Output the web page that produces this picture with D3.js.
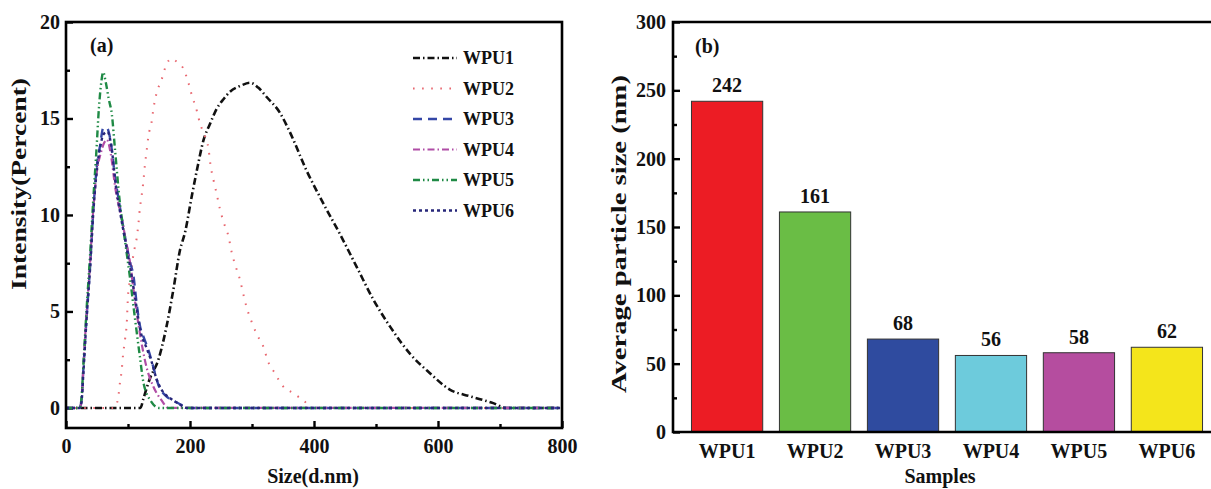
<!DOCTYPE html>
<html>
<head>
<meta charset="utf-8">
<script src="https://cdn.jsdelivr.net/npm/d3@7"></script>
<style>
  body { margin: 0; background: #fff; }
  svg text { font-family: "Liberation Serif", "Times New Roman", serif; font-weight: bold; fill: #111; }
</style>
</head>
<body>
<svg width="1211" height="489"></svg>
<script>
// (a) size distribution, [size nm, intensity %]
var wpu1 = [[0,0],[120,0],[125,0.5],[135,1.5],[149,2.5],[162,4.2],[173,6.1],[184,8.2],[192,9.1],[203,11.0],[211,12.3],[222,13.9],[232,14.7],[243,15.5],[254,16.0],[265,16.4],[282,16.7],[297,16.85],[310,16.6],[324,16.1],[345,15.3],[361,14.3],[388,12.3],[415,10.6],[442,9.0],[469,7.3],[496,5.6],[523,4.2],[555,2.8],[587,1.8],[619,0.95],[652,0.6],[689,0.25],[710,0],[800,0]];
var wpu2 = [[0,0],[78,0],[84,0.5],[87,1.3],[90,2.0],[92,2.75],[95,3.5],[98,4.4],[100,5.8],[103,6.6],[106,7.3],[109,8.0],[114,8.8],[117,9.6],[119,10.3],[122,11.0],[125,11.8],[127,12.5],[130,13.3],[133,14.1],[138,14.8],[141,15.5],[146,16.3],[154,17.0],[162,17.8],[170,18.1],[180,17.9],[189,17.6],[197,16.9],[203,16.2],[211,15.4],[216,14.75],[224,14.1],[230,13.4],[233,12.6],[238,11.8],[243,11.1],[248,10.35],[254,9.65],[262,8.9],[267,8.1],[273,7.4],[281,6.6],[286,5.9],[291,5.25],[299,4.5],[308,3.8],[318,3.2],[326,2.4],[337,1.8],[348,1.2],[367,0.75],[386,0.3],[395,0],[800,0]];
var wpu3 = [[0,0],[22,0],[25,0.4],[28,2.0],[33,4.6],[39,7.4],[44,10.2],[50,12.6],[55,13.6],[60,14.5],[66,14.5],[71,14.0],[79,12.0],[87,10.4],[95,8.9],[103,7.6],[109,6.8],[114,5.4],[119,4.3],[126,3.6],[133,3.0],[141,2.1],[149,1.2],[162,0.6],[175,0.35],[190,0.1],[200,0],[800,0]];
var wpu4 = [[0,0],[22,0],[25,0.4],[28,2.1],[33,4.8],[39,7.6],[44,10.3],[50,12.3],[56,13.2],[61,13.7],[66,13.9],[72,13.2],[80,11.3],[90,9.8],[97,8.6],[103,7.6],[111,5.6],[119,3.9],[130,2.1],[141,1.1],[154,0.4],[165,0],[800,0]];
var wpu5 = [[0,0],[22,0],[25,0.5],[28,2.2],[33,5.0],[39,8.0],[44,10.8],[49,13.3],[53,15.5],[57,16.9],[60,17.4],[64,16.9],[69,16.0],[74,15.2],[79,13.4],[87,10.6],[95,8.7],[103,6.8],[111,4.7],[119,2.7],[125,1.3],[138,0.3],[150,0],[800,0]];
var wpu6 = [[0,0],[22,0],[25,0.3],[28,1.8],[33,4.5],[39,7.3],[44,10.1],[50,12.4],[55,13.5],[61,14.2],[67,14.3],[73,13.6],[80,11.6],[88,10.0],[96,8.6],[104,7.2],[112,5.6],[120,4.0],[130,3.1],[138,2.4],[146,1.5],[155,0.9],[168,0.5],[180,0.25],[195,0],[800,0]];

var seriesNames = ['WPU1', 'WPU2', 'WPU3', 'WPU4', 'WPU5', 'WPU6'];
var seriesData = [wpu1, wpu2, wpu3, wpu4, wpu5, wpu6];
var sizeTicks = [0, 200, 400, 600, 800];
var intensityTicks = [0, 5, 10, 15, 20];

// (b) average particle size
var samples = ['WPU1', 'WPU2', 'WPU3', 'WPU4', 'WPU5', 'WPU6'];
var avgSize = [242, 161, 68, 56, 58, 62];
var sizeAxisTicks = [0, 50, 100, 150, 200, 250, 300];

var lineStyles = [
  { color: '#111', dash: '7,3,1.5,3', width: 2.6 },
  { color: '#e8676f', dash: '1.6,7.5', width: 2 },
  { color: '#3446a6', dash: '9,6', width: 2.4 },
  { color: '#b04da6', dash: '7,3,1.5,3', width: 2.2 },
  { color: '#1f8a45', dash: '7,3,1.5,3,1.5,3', width: 2.4 },
  { color: '#27277a', dash: '3,3', width: 2.4 }
];
var barColors = ['#ec1c24', '#6abd45', '#2f4b9f', '#6dcbdc', '#b54d9f', '#f4e51b'];

var svg = d3.select('svg');
var axisWidth = 2.6;

// ---------- chart (a) ----------
var ax = { left: 66, right: 562, top: 22, bottom: 428 };
var x = d3.scaleLinear().domain([0, 800]).range([ax.left, ax.right]);
var y = d3.scaleLinear().domain([-1.04, 20]).range([ax.bottom, ax.top]);

var gA = svg.append('g');

gA.append('g')
  .attr('transform', 'translate(0,' + ax.bottom + ')')
  .call(d3.axisBottom(x).tickValues([100, 300, 500, 700]).tickSize(-4).tickFormat(''))
  .call(styleAxis);
gA.append('g')
  .attr('transform', 'translate(0,' + ax.bottom + ')')
  .call(d3.axisBottom(x).tickValues(sizeTicks).tickSize(-7).tickPadding(11))
  .call(styleAxis);
gA.append('g')
  .attr('transform', 'translate(' + ax.left + ',0)')
  .call(d3.axisLeft(y).tickValues([2.5, 7.5, 12.5, 17.5]).tickSize(-4).tickFormat(''))
  .call(styleAxis);
gA.append('g')
  .attr('transform', 'translate(' + ax.left + ',0)')
  .call(d3.axisLeft(y).tickValues(intensityTicks).tickSize(-7).tickPadding(6))
  .call(styleAxis);

var line = d3.line()
  .x(function(d) { return x(d[0]); })
  .y(function(d) { return y(d[1]); })
  .curve(d3.curveMonotoneX);

gA.selectAll('path.curve')
  .data(seriesData)
  .enter().append('path')
  .attr('class', 'curve')
  .attr('d', line)
  .attr('fill', 'none')
  .attr('stroke', function(d, i) { return lineStyles[i].color; })
  .attr('stroke-width', function(d, i) { return lineStyles[i].width; })
  .attr('stroke-dasharray', function(d, i) { return lineStyles[i].dash; });

gA.append('rect')
  .attr('x', ax.left).attr('y', ax.top)
  .attr('width', ax.right - ax.left).attr('height', ax.bottom - ax.top)
  .attr('fill', 'none').attr('stroke', '#000').attr('stroke-width', axisWidth);

// legend
var legend = gA.selectAll('g.legend')
  .data(seriesNames)
  .enter().append('g')
  .attr('class', 'legend')
  .attr('transform', function(d, i) { return 'translate(413,' + (58 + i * 30.5) + ')'; });

legend.append('line')
  .attr('x1', 0).attr('x2', 44)
  .attr('stroke', function(d, i) { return lineStyles[i].color; })
  .attr('stroke-width', function(d, i) { return lineStyles[i].width; })
  .attr('stroke-dasharray', function(d, i) { return lineStyles[i].dash; });

legend.append('text')
  .attr('x', 50).attr('dy', '0.35em')
  .style('font-size', '18px')
  .text(function(d) { return d; });

gA.append('text').attr('x', 90).attr('y', 52).style('font-size', '20px').text('(a)');

gA.append('text')
  .attr('x', (ax.left + ax.right) / 2 - 1).attr('y', 483)
  .attr('text-anchor', 'middle').style('font-size', '20px')
  .text('Size(d.nm)');

gA.append('text')
  .attr('transform', 'translate(26,184) rotate(-90)')
  .attr('text-anchor', 'middle').style('font-size', '20px')
  .attr('textLength', 212).attr('lengthAdjust', 'spacingAndGlyphs')
  .text('Intensity(Percent)');

// ---------- chart (b) ----------
var bx = { left: 673, right: 1221, top: 22, bottom: 432 };
var xb = d3.scaleBand().domain(samples).range([bx.left, bx.right])
  .paddingInner(0.19).paddingOuter(0.21);
var yb = d3.scaleLinear().domain([0, 300]).range([bx.bottom, bx.top]);

var gB = svg.append('g');

gB.selectAll('rect.bar')
  .data(avgSize)
  .enter().append('rect')
  .attr('class', 'bar')
  .attr('x', function(d, i) { return xb(samples[i]); })
  .attr('y', function(d) { return yb(d); })
  .attr('width', xb.bandwidth())
  .attr('height', function(d) { return yb(0) - yb(d); })
  .attr('fill', function(d, i) { return barColors[i]; })
  .attr('stroke', '#333')
  .attr('stroke-width', 1);

gB.selectAll('text.value')
  .data(avgSize)
  .enter().append('text')
  .attr('class', 'value')
  .attr('x', function(d, i) { return xb(samples[i]) + xb.bandwidth() / 2; })
  .attr('y', function(d) { return yb(d) - 9; })
  .attr('text-anchor', 'middle').style('font-size', '20px')
  .text(function(d) { return d; });

gB.append('g')
  .attr('transform', 'translate(' + bx.left + ',0)')
  .call(d3.axisLeft(yb).tickValues([25, 75, 125, 175, 225, 275]).tickSize(-4).tickFormat(''))
  .call(styleAxis);
gB.append('g')
  .attr('transform', 'translate(' + bx.left + ',0)')
  .call(d3.axisLeft(yb).tickValues(sizeAxisTicks).tickSize(-7).tickPadding(7))
  .call(styleAxis);
gB.append('g')
  .attr('transform', 'translate(0,' + bx.bottom + ')')
  .call(d3.axisBottom(xb).tickSize(0).tickPadding(12))
  .call(styleAxis);

// frame: left, bottom, top (right side runs off the picture)
gB.append('path')
  .attr('d', 'M' + bx.right + ',' + bx.top + 'H' + bx.left + 'V' + bx.bottom + 'H' + bx.right)
  .attr('fill', 'none').attr('stroke', '#000').attr('stroke-width', axisWidth);

gB.append('text').attr('x', 695).attr('y', 53).style('font-size', '20px').text('(b)');

gB.append('text')
  .attr('x', 940).attr('y', 483)
  .attr('text-anchor', 'middle').style('font-size', '20px')
  .text('Samples');

gB.append('text')
  .attr('transform', 'translate(626,234) rotate(-90)')
  .attr('text-anchor', 'middle').style('font-size', '20px')
  .attr('textLength', 318).attr('lengthAdjust', 'spacingAndGlyphs')
  .text('Average particle size (nm)');

function styleAxis(g) {
  g.select('.domain').remove();
  g.selectAll('.tick line').attr('stroke', '#000').attr('stroke-width', 2.4);
  g.selectAll('.tick text')
    .style('font-family', '"Liberation Serif", "Times New Roman", serif')
    .style('font-weight', 'bold')
    .style('font-size', '20px')
    .attr('fill', '#111');
}
</script>
</body>
</html>
